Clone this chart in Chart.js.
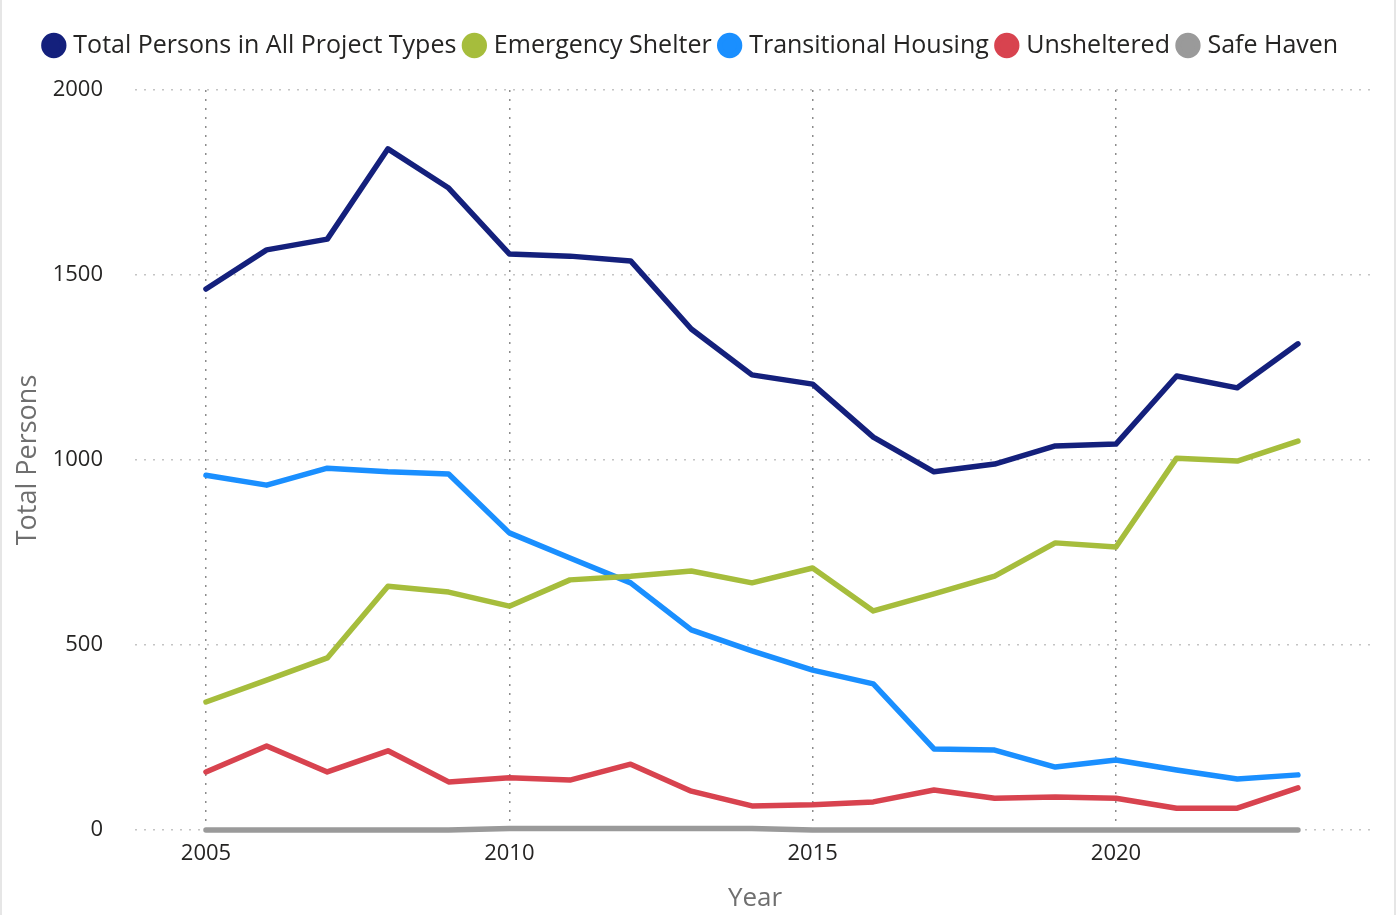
<!DOCTYPE html>
<html>
<head>
<meta charset="utf-8">
<script src="https://cdn.jsdelivr.net/npm/chart.js@4/dist/chart.umd.min.js"></script>
<style>
  html, body { margin: 0; padding: 0; background: #fff; }
  #wrap { position: relative; width: 1392px; height: 915px; border-left: 2px solid #e6e6e6; border-right: 2px solid #e6e6e6; }
</style>
</head>
<body>
<div id="wrap"><canvas id="homelessChart"></canvas></div>
<script>
// years on the x axis
const years = [2005, 2006, 2007, 2008, 2009, 2010, 2011, 2012, 2013, 2014,
               2015, 2016, 2017, 2018, 2019, 2020, 2021, 2022, 2023];

const totalPersons = [1462, 1568, 1597, 1841, 1735, 1557, 1551, 1538, 1354, 1230,
                      1205, 1062, 968, 989, 1038, 1043, 1227, 1195, 1314];
const emergencyShelter = [346, 405, 465, 659, 643, 605, 676, 686, 700, 668,
                          708, 592, 638, 686, 776, 765, 1005, 997, 1051];
const transitionalHousing = [959, 932, 978, 968, 962, 803, 735, 668, 541, 484,
                             432, 395, 219, 216, 170, 189, 162, 138, 149];
const unsheltered = [157, 227, 157, 214, 130, 141, 135, 178, 105, 65,
                     68, 76, 108, 86, 89, 86, 59, 59, 114];
const safeHaven = [0, 0, 0, 0, 0, 4, 4, 4, 4, 4,
                   0, 0, 0, 0, 0, 0, 0, 0, 0];

const xTicks = [2005, 2010, 2015, 2020];
const yTicks = [0, 500, 1000, 1500, 2000];

const FONT = "'Open Sans', sans-serif";

function series(label, values, color) {
  return {
    label: label,
    data: years.map((y, i) => ({ x: y, y: values[i] })),
    borderColor: color,
    backgroundColor: color,
    borderWidth: 5.5,
    pointRadius: 0,
    pointHoverRadius: 0,
    tension: 0,
    clip: 8,
    borderCapStyle: 'round',
    borderJoinStyle: 'round'
  };
}

const chartData = {
  datasets: [
    series('Total Persons in All Project Types', totalPersons, '#14207c'),
    series('Emergency Shelter', emergencyShelter, '#a6bd3c'),
    series('Transitional Housing', transitionalHousing, '#1a8fff'),
    series('Unsheltered', unsheltered, '#d8434f'),
    series('Safe Haven', safeHaven, '#9a9a9a')
  ]
};

// give the legend a fixed block height so the plot starts lower
const legendSpacer = {
  id: 'legendSpacer',
  beforeInit(chart) {
    const fit = chart.legend.fit;
    chart.legend.fit = function () {
      fit.bind(chart.legend)();
      this.height = 68;
    };
  }
};

window.addEventListener('DOMContentLoaded', () => {
  const ctx = document.getElementById('homelessChart').getContext('2d');
  new Chart(ctx, {
    type: 'line',
    data: chartData,
    plugins: [legendSpacer],
    options: {
      responsive: true,
      maintainAspectRatio: false,
      animation: false,
      layout: { padding: { top: 22, right: 19, bottom: 0, left: 8 } },
      plugins: {
        tooltip: { enabled: false },
        legend: {
          position: 'top',
          labels: {
            usePointStyle: true,
            pointStyle: 'circle',
            boxWidth: 14,
            boxHeight: 14,
            padding: 11,
            color: '#252423',
            font: { family: FONT, size: 25 }
          }
        }
      },
      scales: {
        x: {
          type: 'linear',
          min: 2003.83,
          max: 2024.27,
          afterBuildTicks: axis => { axis.ticks = xTicks.map(v => ({ value: v })); },
          afterFit: axis => { axis.height = 85; },
          ticks: {
            color: '#252423',
            font: { family: FONT, size: 22 },
            padding: 11,
            maxRotation: 0,
            callback: v => String(v)
          },
          grid: {
            color: '#8c8c8c',
            lineWidth: 1.5,
            drawTicks: false
          },
          border: { display: false, dash: [2, 7] },
          title: {
            display: true,
            text: 'Year',
            color: '#6f6f6f',
            font: { family: FONT, size: 26 },
            padding: { top: 0, bottom: 1 }
          }
        },
        y: {
          min: 0,
          max: 2000,
          afterBuildTicks: axis => { axis.ticks = yTicks.map(v => ({ value: v })); },
          afterFit: axis => { axis.width = 125; },
          ticks: {
            color: '#252423',
            font: { family: FONT, size: 22 },
            padding: 32,
            callback: v => String(v)
          },
          grid: {
            color: '#c4c4c4',
            lineWidth: 1.5,
            drawTicks: false
          },
          border: { display: false, dash: [2, 7] },
          title: {
            display: true,
            text: 'Total Persons',
            color: '#6f6f6f',
            font: { family: FONT, size: 27 },
            padding: { top: 2, bottom: 0 }
          }
        }
      }
    }
  });
});
</script>
</body>
</html>
